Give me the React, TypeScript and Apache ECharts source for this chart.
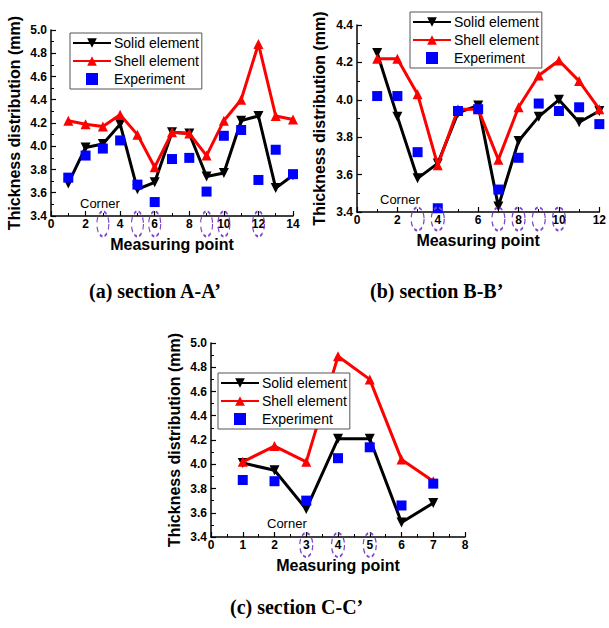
import React, { useEffect, useRef } from "react";
import * as echarts from "echarts";

// ---------- data ----------
const pointsA = [1, 2, 3, 4, 5, 6, 7, 8, 9, 10, 11, 12, 13, 14];
const solidA = [3.68, 3.99, 4.02, 4.19, 3.63, 3.69, 4.12, 4.11, 3.74, 3.77, 4.22, 4.26, 3.64, 3.75];
const shellA = [4.22, 4.19, 4.17, 4.27, 4.1, 3.82, 4.12, 4.11, 3.92, 4.22, 4.4, 4.88, 4.26, 4.23];
const expA = [3.73, 3.92, 3.98, 4.05, 3.67, 3.52, 3.89, 3.9, 3.61, 4.09, 4.14, 3.71, 3.97, 3.76];
const cornersA = [3, 5, 6, 9, 10, 12];

const pointsB = [1, 2, 3, 4, 5, 6, 7, 8, 9, 10, 11, 12];
const solidB = [4.25, 3.91, 3.58, 3.66, 3.93, 3.97, 3.43, 3.78, 3.91, 4.0, 3.88, 3.94];
const shellB = [4.22, 4.22, 4.03, 3.65, 3.95, 3.95, 3.68, 3.96, 4.13, 4.21, 4.1, 3.95];
const expB = [4.02, 4.02, 3.72, 3.42, 3.94, 3.95, 3.52, 3.69, 3.98, 3.94, 3.96, 3.87];
const cornersB = [3, 4, 7, 8, 9, 10];

const pointsC = [1, 2, 3, 4, 5, 6, 7];
const solidC = [4.01, 3.95, 3.63, 4.21, 4.21, 3.52, 3.68];
const shellC = [4.02, 4.15, 4.02, 4.89, 4.7, 4.04, 3.86];
const expC = [3.87, 3.86, 3.7, 4.05, 4.14, 3.66, 3.84];
const cornersC = [3, 4, 5];

const seriesNames = ["Solid element", "Shell element", "Experiment"];
const captions = ["(a) section A-A\u2019", "(b) section B-B\u2019", "(c) section C-C\u2019"];
const xTitle = "Measuring point";
const yTitle = "Thickness distribution (mm)";
const cornerLabel = "Corner";

const SANS = "'Liberation Sans', Arial, sans-serif";
const SERIF = "'Liberation Serif', 'Times New Roman', serif";
const PURPLE = "#7d45cc";

const pairs = (xs: number[], ys: number[]) => xs.map((x, i) => [x, ys[i]]);

function makeX(idx: number, max: number, interval: number) {
  return {
    type: "value",
    gridIndex: idx,
    min: 0,
    max,
    interval,
    name: xTitle,
    nameLocation: "middle",
    nameGap: 20,
    nameTextStyle: { fontFamily: SANS, fontWeight: "bold", fontSize: 16, color: "#000" },
    axisLine: { show: true, onZero: false, lineStyle: { color: "#000", width: 1.5 } },
    axisTick: { show: true, inside: true, length: 5, lineStyle: { color: "#000", width: 1.2 } },
    minorTick: { show: true, splitNumber: 2, length: 3, lineStyle: { color: "#000", width: 1 } },
    axisLabel: { fontFamily: SANS, fontWeight: "bold", fontSize: 12, color: "#000", margin: 2 },
    splitLine: { show: false },
  };
}

function makeY(idx: number, max: number, nameGap: number) {
  return {
    type: "value",
    gridIndex: idx,
    min: 3.4,
    max,
    interval: 0.2,
    name: yTitle,
    nameLocation: "middle",
    nameGap,
    nameTextStyle: { fontFamily: SANS, fontWeight: "bold", fontSize: 16, color: "#000" },
    axisLine: { show: true, onZero: false, lineStyle: { color: "#000", width: 1.5 } },
    axisTick: { show: true, inside: true, length: 5, lineStyle: { color: "#000", width: 1.2 } },
    minorTick: { show: true, splitNumber: 2, length: 3, lineStyle: { color: "#000", width: 1 } },
    axisLabel: {
      fontFamily: SANS,
      fontWeight: "bold",
      fontSize: 12,
      color: "#000",
      margin: 4,
      formatter: (v: number) => v.toFixed(1),
    },
    splitLine: { show: false },
  };
}

function makeSeries(idx: number, xs: number[], solid: number[], shell: number[], exp: number[], corners: number[], ellipse: number[]) {
  return [
    {
      name: seriesNames[0],
      type: "line",
      xAxisIndex: idx,
      yAxisIndex: idx,
      data: pairs(xs, solid),
      symbol: "triangle",
      symbolRotate: 180,
      symbolSize: 10,
      lineStyle: { color: "#000", width: 3 },
      itemStyle: { color: "#000" },
      z: 2,
    },
    {
      name: seriesNames[1],
      type: "line",
      xAxisIndex: idx,
      yAxisIndex: idx,
      data: pairs(xs, shell),
      symbol: "triangle",
      symbolSize: 10,
      lineStyle: { color: "#ff0000", width: 3 },
      itemStyle: { color: "#ff0000" },
      z: 3,
    },
    {
      name: seriesNames[2],
      type: "scatter",
      xAxisIndex: idx,
      yAxisIndex: idx,
      data: pairs(xs, exp),
      symbol: "rect",
      symbolSize: 10,
      itemStyle: { color: "#0000ff", opacity: 1 },
      clip: false,
      z: 4,
    },
    {
      name: "corner" + idx,
      type: "scatter",
      xAxisIndex: idx,
      yAxisIndex: idx,
      data: corners.map((c) => [c, 3.4]),
      symbol: "circle",
      symbolSize: [ellipse[0], ellipse[1]],
      symbolOffset: [0, ellipse[2]],
      clip: false,
      silent: true,
      itemStyle: {
        color: "rgba(0,0,0,0)",
        opacity: 1,
        borderColor: PURPLE,
        borderWidth: 1.6,
        borderType: [4, 3],
      },
      z: 5,
    },
  ];
}

function makeLegend(left: number, top: number) {
  return {
    data: [
      { name: seriesNames[0] },
      { name: seriesNames[1] },
      { name: seriesNames[2], icon: "path://M0,0L10,0L10,10L0,10Z", itemStyle: { color: "#0000ff", opacity: 1 } },
    ],
    orient: "vertical",
    left,
    top,
    itemWidth: 38,
    itemHeight: 12,
    itemGap: 4,
    symbolKeepAspect: true,
    padding: [3, 3, 3, 2],
    borderColor: "#555",
    borderWidth: 1,
    backgroundColor: "#fff",
    selectedMode: false,
    textStyle: { fontFamily: SANS, fontSize: 14, color: "#000", padding: [0, 0, 0, -2] },
  };
}

function text(x: number, y: number, t: string, font: string, align = "left") {
  return {
    type: "text",
    x,
    y,
    z: 10,
    style: { text: t, font, fill: "#000", textAlign: align, textVerticalAlign: "middle" },
  };
}

export default function App() {
  const ref = useRef<HTMLDivElement>(null);
  useEffect(() => {
    if (!ref.current) return;
    const chart = echarts.init(ref.current, null, { renderer: "svg" });
    chart.setOption({
      animation: false,
      backgroundColor: "#fff",
      grid: [
        { left: 51, top: 30, width: 242, height: 186 },
        { left: 357, top: 25, width: 244, height: 187 },
        { left: 211, top: 343, width: 254, height: 194 },
      ],
      xAxis: [makeX(0, 14, 2), makeX(1, 12, 2), makeX(2, 8, 1)],
      yAxis: [makeY(0, 5.0, 29), makeY(1, 4.4, 30), makeY(2, 5.0, 29)],
      legend: [makeLegend(70, 33), makeLegend(410, 12), makeLegend(218, 373)],
      series: [
        ...makeSeries(0, pointsA, solidA, shellA, expA, cornersA, [12, 25, 8]),
        ...makeSeries(1, pointsB, solidB, shellB, expB, cornersB, [13, 23, 7]),
        ...makeSeries(2, pointsC, solidC, shellC, expC, cornersC, [13, 24, 8]),
      ],
      graphic: [
        text(80, 203, cornerLabel, `13px ${SANS}`),
        text(380, 199, cornerLabel, `13px ${SANS}`),
        text(267, 523, cornerLabel, `13px ${SANS}`),
        text(89, 291, captions[0], `bold 20px ${SERIF}`),
        text(370, 291, captions[1], `bold 20px ${SERIF}`),
        text(230, 607, captions[2], `bold 20px ${SERIF}`),
      ],
    });
    return () => chart.dispose();
  }, []);
  return <div ref={ref} style={{ position: "fixed", left: 0, top: 0, width: 609, height: 628 }} />;
}
